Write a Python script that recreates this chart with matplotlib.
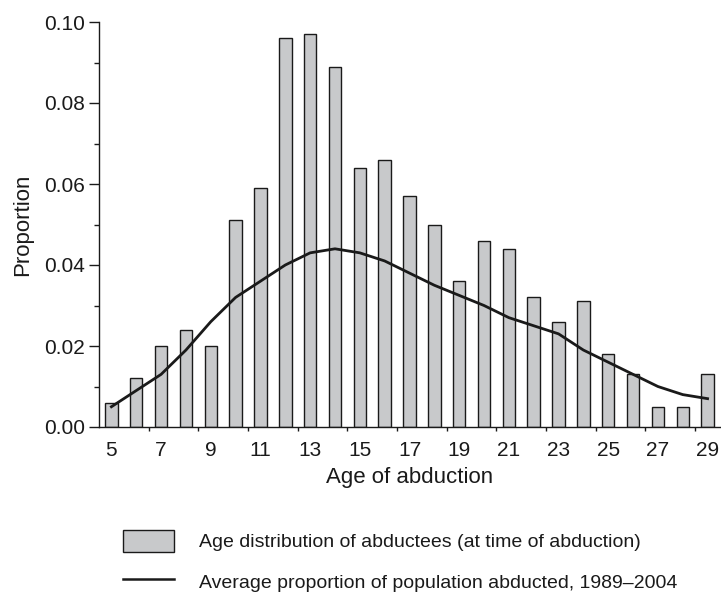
import matplotlib
matplotlib.use("Agg")
import matplotlib.pyplot as plt
from matplotlib.patches import Patch
from matplotlib.lines import Line2D

plt.rcParams['font.family'] = ['Liberation Sans', 'DejaVu Sans']

# data
ages = list(range(5, 30))
age_dist = [0.006, 0.012, 0.020, 0.024, 0.020, 0.051, 0.059, 0.096, 0.097, 0.089,
            0.064, 0.066, 0.057, 0.050, 0.036, 0.046, 0.044, 0.032, 0.026, 0.031,
            0.018, 0.013, 0.005, 0.005, 0.013]
avg_abducted = [0.005, 0.009, 0.013, 0.019, 0.026, 0.032, 0.036, 0.040, 0.043, 0.044,
                0.043, 0.041, 0.038, 0.035, 0.0325, 0.030, 0.027, 0.025, 0.023, 0.019,
                0.016, 0.013, 0.010, 0.008, 0.007]
xtick_labels = [str(a) for a in range(5, 30, 2)]

dark = '#1a1a1a'
grey = '#c8c9cb'
fig = plt.figure(figsize=(7.21, 6.0), dpi=100)
ax = fig.add_axes([99 / 721, 173 / 600, 621 / 721, 405 / 600])

ax.bar(ages, age_dist, width=0.5, color=grey, edgecolor=dark, linewidth=1.0)
ax.plot(ages, avg_abducted, color=dark, linewidth=2.0)

ax.set_xlim(4.5, 29.5)
ax.set_ylim(0, 0.10)
ax.set_xticks(range(5, 30, 2))
ax.set_xticklabels(xtick_labels)
ax.set_xticks([a + 0.5 for a in range(6, 29, 2)], minor=True)
ax.set_yticks([0, 0.02, 0.04, 0.06, 0.08, 0.10])
ax.set_yticklabels(['0.00', '0.02', '0.04', '0.06', '0.08', '0.10'])
ax.set_yticks([0.01, 0.03, 0.05, 0.07, 0.09], minor=True)

ax.tick_params(axis='x', which='major', length=0, pad=10, labelsize=15, colors=dark)
ax.tick_params(axis='x', which='minor', length=3, width=1, color=dark)
ax.tick_params(axis='y', which='major', length=7, width=1, pad=3, labelsize=15, colors=dark)
ax.tick_params(axis='y', which='minor', length=3.6, width=1, color=dark)

for side in ['top', 'right']:
    ax.spines[side].set_visible(False)
for side in ['left', 'bottom']:
    ax.spines[side].set_color(dark)
    ax.spines[side].set_linewidth(1.0)

ax.set_xlabel('Age of abduction', fontsize=16, color=dark, labelpad=5)
ax.set_ylabel('Proportion', fontsize=16, color=dark, labelpad=8)

handles = [Patch(facecolor=grey, edgecolor=dark, linewidth=1.0),
           Line2D([0], [0], color=dark, linewidth=1.8)]
labels = ['Age distribution of abductees (at time of abduction)',
          'Average proportion of population abducted, 1989\u20132004']
fig.legend(handles, labels, loc='upper left', bbox_to_anchor=(123 / 721, 1 - 530 / 600),
           frameon=False, fontsize=14, handlelength=2.63, handleheight=1.34,
           handletextpad=1.29, labelspacing=0.98, borderpad=0, borderaxespad=0,
           labelcolor=dark)

fig.savefig('out.png', dpi=100)
